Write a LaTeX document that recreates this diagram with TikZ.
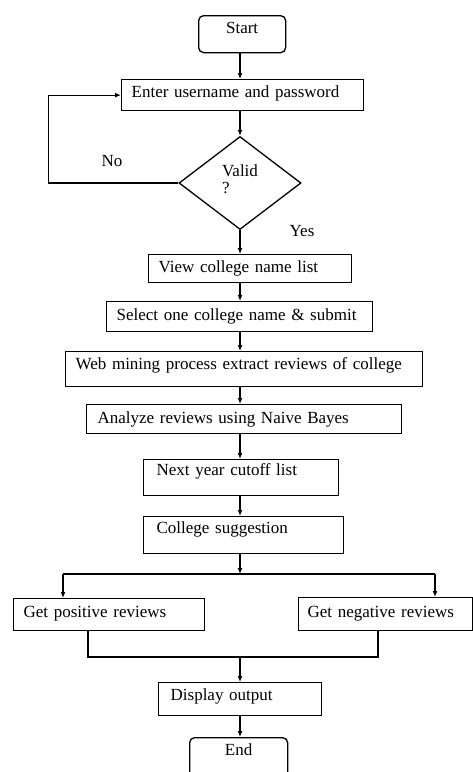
\documentclass[tikz,border=0pt]{standalone}
\usepackage{fontspec}
\setmainfont{Liberation Serif}
\usetikzlibrary{arrows.meta,shapes.geometric}
\hyphenpenalty=10000

\tikzset{
  box/.style={draw, line width=1.3pt, anchor=north west, align=left,
    inner xsep=10pt, inner ysep=0pt, text height=12pt, text depth=6pt},
  term/.style={box, rounded corners=5pt, align=center},
  decision/.style={draw, line width=1.3pt, diamond, align=left, inner sep=0pt},
  arr/.style={line width=1.3pt, -{Latex[length=6pt,width=5pt]}},
  link/.style={line width=1.3pt}
}

\begin{document}
\begin{tikzpicture}[x=1pt,y=-1pt,font=\fontsize{17}{17}\selectfont]
  \useasboundingbox (0,0) rectangle (472,772);
  \coordinate (spine) at (240,0);

  \node[term, text width=67pt, minimum height=37pt, text depth=12.4pt] (start) at (198,15) {Start};
  \node[box, text width=222pt, minimum height=31pt, text depth=7.4pt] (enter) at (121,79) {Enter username and password};
  \node[decision, minimum width=122pt, minimum height=93pt, text depth=8pt] (valid) at (240,183) {Valid\\?};
  \node[box, text width=183pt, minimum height=28pt, text depth=4.4pt] (view) at (148,254) {View college name list};
  \node[box, text width=246pt, minimum height=30pt, text depth=3.4pt] (select) at (106,301) {Select one college name \& submit};
  \node[box, text width=337pt, minimum height=35pt, text depth=11.4pt] (web) at (65,351) {Web mining process extract reviews of college};
  \node[box, inner xsep=11pt, text width=293pt, minimum height=29pt, text depth=3.4pt] (analyze) at (86,404) {Analyze reviews using Naive Bayes};
  \node[box, inner xsep=13pt, text width=169pt, minimum height=36pt, text depth=15.4pt] (next) at (143,459) {Next year cutoff list};
  \node[box, inner xsep=13pt, text width=174pt, minimum height=37pt, text depth=15.4pt] (college) at (143,516) {College suggestion};
  \node[box, text width=171pt, minimum height=32pt, text depth=6.4pt] (positive) at (13,598) {Get positive reviews};
  \node[box, inner xsep=9pt, text width=156pt, minimum height=33pt, text depth=4.4pt] (negative) at (298,597) {Get negative reviews};
  \node[box, inner xsep=12pt, text width=139pt, minimum height=33pt, text depth=9.4pt] (display) at (158,682) {Display output};
  \node[term, text width=78pt, minimum height=39pt, text depth=15.4pt] (end) at (189,737) {End};

  \node (no) at (112,161) {No};
  \node (yes) at (302,231) {Yes};

  \coordinate (split) at (240,574);
  \coordinate (splitL) at (63,574);
  \coordinate (splitR) at (435,574);
  \coordinate (joinL) at (88,657);
  \coordinate (joinR) at (378,657);
  \coordinate (join) at (240,657);

  \draw[arr] (start.south -| spine) -- (enter.north -| spine);
  \draw[arr] (enter.south -| spine) -- (valid.north);
  \draw[arr] (valid.south) -- (view.north -| spine);
  \draw[arr] (valid.west) -- ++(-130,0) |- (enter.west);
  \draw[arr] (view.south -| spine) -- (select.north -| spine);
  \draw[arr] (select.south -| spine) -- (web.north -| spine);
  \draw[arr] (web.south -| spine) -- (analyze.north -| spine);
  \draw[arr] (analyze.south -| spine) -- (next.north -| spine);
  \draw[arr] (next.south -| spine) -- (college.north -| spine);
  \draw[arr] (college.south -| spine) -- (split);
  \draw[link] (splitL) -- (splitR);
  \draw[arr] (splitL) -- (positive.north -| splitL);
  \draw[arr] (splitR) -- (negative.north -| splitR);
  \draw[link] (positive.south -| joinL) -- (joinL) -- (joinR) -- (negative.south -| joinR);
  \draw[arr] (join) -- (display.north -| spine);
  \draw[arr] (display.south -| spine) -- (end.north -| spine);
\end{tikzpicture}
\end{document}
